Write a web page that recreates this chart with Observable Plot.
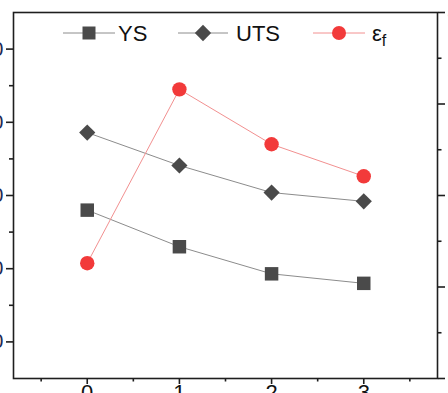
<!DOCTYPE html>
<html>
<head>
<meta charset="utf-8">
<script src="https://cdn.jsdelivr.net/npm/d3@7"></script>
<script src="https://cdn.jsdelivr.net/npm/@observablehq/plot@0.6"></script>
<style>
  html, body { margin: 0; padding: 0; background: #fff; }
  #wrap { position: relative; width: 448px; height: 393px; overflow: hidden; background: #fff; }
  #chart svg { position: absolute; left: -60px; top: 0; max-width: none !important; width: 548px !important; height: 430px !important; }
  #legend { position: absolute; left: 0; top: 0; }
</style>
</head>
<body>
<div id="wrap"><div id="chart"></div><svg id="legend" width="448" height="60"></svg></div>
<script>
// ---- data ----
const xs = [0, 1, 2, 3];
const ysValues = [380, 330, 293, 280];      // YS (left axis)
const utsValues = [486, 441, 404, 392];     // UTS (left axis)
const efValues = [12.6, 31.6, 25.6, 22.1];  // elongation (right axis)
const leftTicks = [200, 300, 400, 500, 600];
const leftMinor = [250, 350, 450, 550];
const rightTicks = [0, 10, 20, 30, 40];
const rightMinor = [5, 15, 25, 35];
const xTicks = [0, 1, 2, 3];
const xMinor = [-0.5, 0.5, 1.5, 2.5, 3.5];
const seriesNames = ["YS", "UTS", "ε"];

// ---- scales mapping right axis into left units ----
const leftDomain = [150, 650];
const rightDomain = [0, 40];
const toLeft = d3.scaleLinear().domain(rightDomain).range(leftDomain);

const ysData = xs.map((x, i) => ({x, v: ysValues[i]}));
const utsData = xs.map((x, i) => ({x, v: utsValues[i]}));
const efData = xs.map((x, i) => ({x, v: toLeft(efValues[i]), e: efValues[i]}));

const gray = "#4a4a4a";
const lineGray = "#8c8c8c";
const red = "#f23a3a";
const lineRed = "#f29090";
const axisColor = "#1e1e1e";

const chart = Plot.plot({
  width: 548,
  height: 430,
  marginLeft: 73,
  marginRight: 51,
  marginTop: 12,
  marginBottom: 52,
  style: {fontFamily: "'Liberation Sans', Arial, sans-serif", fontSize: "20px", background: "transparent", overflow: "visible"},
  x: {domain: [-0.8, 3.8]},
  y: {domain: leftDomain},
  marks: [
    Plot.frame({stroke: axisColor, strokeWidth: 1.6}),
    // left axis
    Plot.axisY({anchor: "left", ticks: leftTicks, tickSize: 7, tickPadding: 3, strokeWidth: 1.6, stroke: axisColor, fill: "#1c2b55", label: null, fontSize: 20}),
    Plot.axisY({anchor: "left", ticks: leftMinor, tickSize: 4, tickFormat: () => "", strokeWidth: 1.6, stroke: axisColor, label: null}),
    // right axis
    Plot.axisY({anchor: "right", ticks: rightTicks.map(toLeft), tickFormat: v => d3.format("d")(toLeft.invert(v)), tickSize: 7, tickPadding: 3, strokeWidth: 1.6, stroke: axisColor, fill: "#cccccc", label: null, fontSize: 20}),
    Plot.axisY({anchor: "right", ticks: rightMinor.map(toLeft), tickFormat: () => "", tickSize: 3.5, strokeWidth: 1.6, stroke: axisColor, label: null}),
    // bottom axis
    Plot.axisX({anchor: "bottom", ticks: xTicks, tickFormat: d3.format("d"), tickSize: 6, tickPadding: 0, strokeWidth: 1.6, stroke: axisColor, fill: "#111", label: null, fontSize: 22}),
    Plot.axisX({anchor: "bottom", ticks: xMinor, tickSize: 3.5, tickFormat: () => "", strokeWidth: 1.6, stroke: axisColor, label: null}),
    // lines
    Plot.line(ysData, {x: "x", y: "v", stroke: lineGray, strokeWidth: 1}),
    Plot.line(utsData, {x: "x", y: "v", stroke: lineGray, strokeWidth: 1}),
    Plot.line(efData, {x: "x", y: "v", stroke: lineRed, strokeWidth: 1}),
    // markers
    Plot.dot(ysData, {x: "x", y: "v", symbol: "square", r: 7.6, fill: gray, stroke: "none"}),
    Plot.dot(utsData, {x: "x", y: "v", symbol: "diamond2", r: 7.3, fill: gray, stroke: "none"}),
    Plot.dot(efData, {x: "x", y: "v", symbol: "circle", r: 7.2, fill: red, stroke: "none"})
  ]
});
document.getElementById("chart").appendChild(chart);

// ---- legend ----
const leg = d3.select("#legend");
const legendItems = [
  {name: seriesNames[0], line: lineGray, fill: gray, sym: d3.symbolSquare, size: 13 * 13, x0: 63, x1: 115, tx: 118},
  {name: seriesNames[1], line: lineGray, fill: gray, sym: d3.symbolDiamond2, size: 13 * 13, x0: 178, x1: 228, tx: 236},
  {name: seriesNames[2], line: lineRed, fill: red, sym: d3.symbolCircle, size: Math.PI * 7 * 7, x0: 313, x1: 365, tx: 372, sub: "f"}
];
const ly = 33;
legendItems.forEach(it => {
  leg.append("line").attr("x1", it.x0).attr("x2", it.x1).attr("y1", ly).attr("y2", ly)
    .attr("stroke", it.line).attr("stroke-width", 1);
  leg.append("path").attr("d", d3.symbol(it.sym, it.size)()).attr("transform", `translate(${(it.x0 + it.x1) / 2},${ly})`)
    .attr("fill", it.fill);
  const t = leg.append("text").attr("x", it.tx).attr("y", ly + 8)
    .attr("font-family", "'Liberation Sans', Arial, sans-serif").attr("font-size", 22).attr("fill", "#111")
    .text(it.name);
  if (it.sub) {
    t.append("tspan").attr("dy", 5).attr("font-size", 16).text(it.sub);
  }
});
</script>
</body>
</html>
